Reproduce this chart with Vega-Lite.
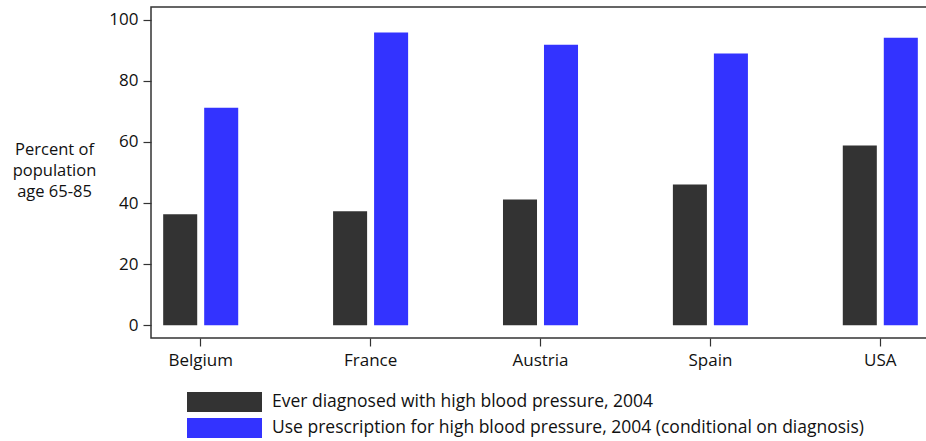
{
  "$schema": "https://vega.github.io/schema/vega-lite/v6.json",
  "width": 779,
  "height": 331,
  "autosize": {"type": "none"},
  "padding": {"left": 151, "top": 7, "right": 0, "bottom": 103},
  "background": "white",
  "config": {
    "font": "Open Sans",
    "view": {"stroke": "#333333", "strokeWidth": 1.5},
    "axis": {"labelFont": "Open Sans", "labelFontSize": 17, "labelColor": "#111", "tickColor": "#333", "tickWidth": 1.2, "domain": false, "grid": false}
  },
  "data": {
    "values": [
      {"country": "Belgium", "series": "Ever diagnosed with high blood pressure, 2004", "value": 36.3},
      {"country": "Belgium", "series": "Use prescription for high blood pressure, 2004 (conditional on diagnosis)", "value": 71.2},
      {"country": "France", "series": "Ever diagnosed with high blood pressure, 2004", "value": 37.3},
      {"country": "France", "series": "Use prescription for high blood pressure, 2004 (conditional on diagnosis)", "value": 95.8},
      {"country": "Austria", "series": "Ever diagnosed with high blood pressure, 2004", "value": 41.2},
      {"country": "Austria", "series": "Use prescription for high blood pressure, 2004 (conditional on diagnosis)", "value": 91.8},
      {"country": "Spain", "series": "Ever diagnosed with high blood pressure, 2004", "value": 46.1},
      {"country": "Spain", "series": "Use prescription for high blood pressure, 2004 (conditional on diagnosis)", "value": 88.9},
      {"country": "USA", "series": "Ever diagnosed with high blood pressure, 2004", "value": 58.8},
      {"country": "USA", "series": "Use prescription for high blood pressure, 2004 (conditional on diagnosis)", "value": 94.1}
    ]
  },
  "mark": {"type": "bar"},
  "encoding": {
    "x": {
      "field": "country",
      "type": "nominal",
      "sort": ["Belgium", "France", "Austria", "Spain", "USA"],
      "scale": {"paddingInner": 0.415, "paddingOuter": 0},
      "axis": {"title": null, "labelAngle": 0, "tickSize": 8, "labelPadding": 6}
    },
    "xOffset": {
      "field": "series",
      "type": "nominal",
      "sort": ["Ever diagnosed with high blood pressure, 2004", "Use prescription for high blood pressure, 2004 (conditional on diagnosis)"],
      "scale": {"paddingInner": 0.17, "paddingOuter": 0.297}
    },
    "y": {
      "field": "value",
      "type": "quantitative",
      "scale": {"domain": [-4.15, 104.15], "nice": false, "zero": false},
      "axis": {
        "values": [0, 20, 40, 60, 80, 100],
        "tickSize": 8,
        "labelPadding": 5,
        "title": ["Percent of", "population", "age 65-85"],
        "titleAngle": 0,
        "titleAlign": "center",
        "titleBaseline": "middle",
        "titleX": -97,
        "titleY": 142,
        "titleFont": "Open Sans",
        "titleFontSize": 16.5,
        "titleFontWeight": "normal",
        "titleLineHeight": 21,
        "titleColor": "#111"
      }
    },
    "y2": {"datum": 0},
    "color": {
      "field": "series",
      "type": "nominal",
      "scale": {
        "domain": ["Ever diagnosed with high blood pressure, 2004", "Use prescription for high blood pressure, 2004 (conditional on diagnosis)"],
        "range": ["#333333", "#3333ff"]
      },
      "legend": {
        "orient": "none",
        "legendX": 36,
        "legendY": 385,
        "title": null,
        "padding": 0,
        "symbolType": "M-1,-1H6.5V1H-1Z",
        "symbolSize": 400,
        "symbolStrokeWidth": 0,
        "symbolOpacity": 1,
        "labelOffset": 65,
        "rowPadding": 6,
        "labelFont": "Open Sans",
        "labelFontSize": 17.5,
        "labelColor": "#111",
        "labelLimit": 800
      }
    }
  }
}
